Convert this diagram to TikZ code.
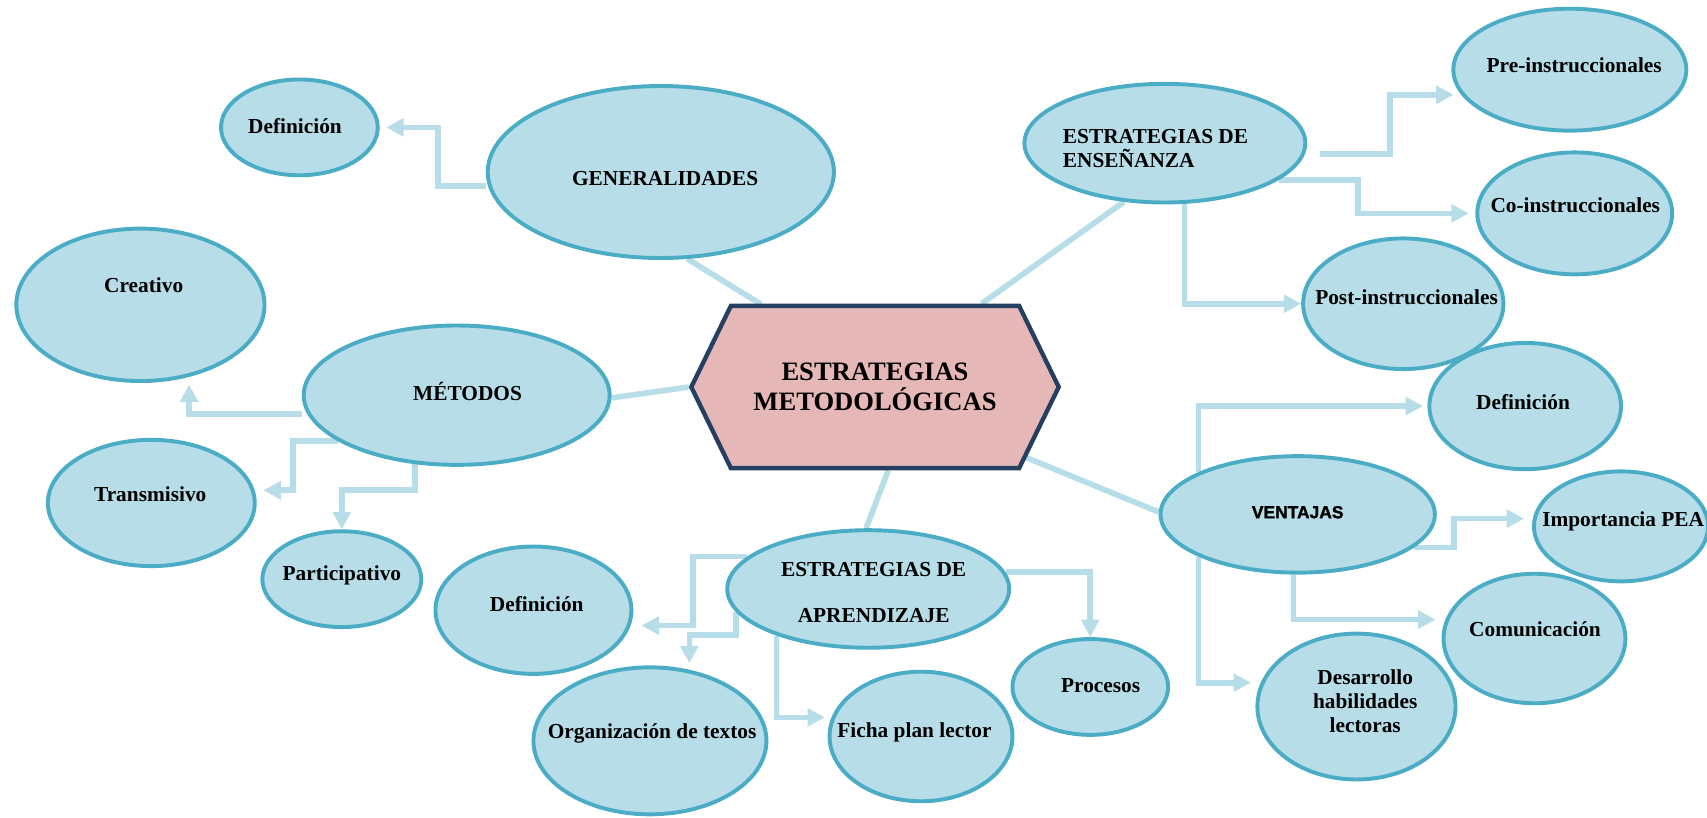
\documentclass[tikz,border=0pt]{standalone}
\usepackage{fontspec}
\setmainfont{Liberation Serif}
\newfontfamily\negrita[BoldFeatures={FakeBold=1.5}]{Liberation Sans}
\usetikzlibrary{shapes.geometric,shapes.symbols,arrows.meta,backgrounds}

\definecolor{relleno}{HTML}{B7DDE8}
\definecolor{borde}{HTML}{4BACC6}
\definecolor{linea}{HTML}{B6DDE8}
\definecolor{rosa}{HTML}{E5B8B7}
\definecolor{marino}{HTML}{243F60}

\tikzset{
    hoja/.style={ellipse, draw=borde, fill=relleno, line width=1.8pt, inner sep=0pt},
    rotulo/.style={font=\fontsize{9.8}{11}\selectfont\bfseries, inner sep=0pt,
                   anchor=base, align=center},
    enlace/.style={draw=linea, line width=2.6pt},
    flecha/.style={draw=linea, line width=2.6pt, shorten >=3pt,
                   -{Triangle[width=8pt,length=8pt]}},
}

\begin{document}
\begin{tikzpicture}[x=0.5pt,y=-0.5pt]
        \useasboundingbox (0,0) rectangle (1568,751);

        % centro
        \node[shape=signal, signal to=west and east, signal pointer angle=128,
              draw=marino, fill=rosa, line width=2pt, inner sep=0pt,
              minimum width=168.75pt, minimum height=74.5pt, align=center,
              font=\fontsize{12.2}{14}\selectfont\bfseries]
              (hex) at (803.75,355.5) {ESTRATEGIAS\\METODOLÓGICAS};

        \begin{scope}[every node/.style={hoja}]
            \node[minimum width=72pt, minimum height=44pt] (def1) at (275,117) {};
            \node[minimum width=159pt, minimum height=79pt] (gen) at (607,158) {};
            \node[minimum width=114pt, minimum height=70pt] (crea) at (129,280) {};
            \node[minimum width=140.5pt, minimum height=64pt] (met) at (419.5,363) {};
            \node[minimum width=95pt, minimum height=58pt] (trans) at (139,462) {};
            \node[minimum width=73pt, minimum height=44pt] (parti) at (314,532) {};
            \node[minimum width=129pt, minimum height=54.5pt] (ens) at (1070,131.5) {};
            \node[minimum width=107pt, minimum height=56pt] (pre) at (1442,64) {};
            \node[minimum width=89.5pt, minimum height=56pt] (co) at (1446.5,196) {};
            \node[minimum width=92pt, minimum height=60pt] (post) at (1289,279) {};
            \node[minimum width=88pt, minimum height=58pt] (def2) at (1401,373) {};
            \node[minimum width=126pt, minimum height=53.5pt] (ven) at (1192,472.5) {};
            \node[minimum width=80pt, minimum height=50.5pt] (imp) at (1489,483.5) {};
            \node[minimum width=91pt, minimum height=67pt] (des) at (1246,649) {};
            \node[minimum width=83.5pt, minimum height=59.5pt] (com) at (1409.5,586.5) {};
            \node[minimum width=129.5pt, minimum height=54pt] (apr) at (797.5,541) {};
            \node[minimum width=90pt, minimum height=58.5pt] (def3) at (490,560.5) {};
            \node[minimum width=107pt, minimum height=67.5pt] (org) at (597,680.5) {};
            \node[minimum width=84pt, minimum height=59.5pt] (ficha) at (846,676.5) {};
            \node[minimum width=71.5pt, minimum height=44pt] (proc) at (1001.5,631) {};
        \end{scope}

        \begin{scope}[every node/.style={rotulo}]
            \node (def1-t) at (271,123) {Definición};
            \node (gen-t) at (611,170) {GENERALIDADES};
            \node (crea-t) at (132,269) {Creativo};
            \node (met-t) at (429.5,368) {MÉTODOS};
            \node (trans-t) at (138,461) {Transmisivo};
            \node (parti-t) at (314,533.5) {Participativo};
            \node[anchor=base west, align=left] (ens-t) at (976,154) {ESTRATEGIAS DE\\ENSEÑANZA};
            \node (pre-t) at (1446,67) {Pre-instruccionales};
            \node (co-t) at (1447,195) {Co-instruccionales};
            \node (post-t) at (1292,280) {Post-instruccionales};
            \node (def2-t) at (1399,376) {Definición};
            \node[font=\fontsize{8}{9}\selectfont\negrita\bfseries] (ven-t) at (1192,476) {VENTAJAS};
            \node (imp-t) at (1491,484) {Importancia PEA};
            \node (com-t) at (1410,585) {Comunicación};
            \node (des-t) at (1254,673) {Desarrollo\\habilidades\\lectoras};
            \node (apr-t) at (802.5,572) {ESTRATEGIAS DE\\[10pt]APRENDIZAJE};
            \node (def3-t) at (493,562) {Definición};
            \node (org-t) at (599,678) {Organización de textos};
            \node (ficha-t) at (840,677) {Ficha plan lector};
            \node (proc-t) at (1011,636) {Procesos};
        \end{scope}

        \begin{pgfonlayer}{background}
            \path[enlace] (hex.144) -- (gen.-73);
            \path[enlace] (hex.38) -- (ens.-125);
            \path[enlace] (hex.west) -- (met.-1);
            \path[enlace] (hex.279) -- (apr.92);
            \path[enlace] (hex.335) -- (ven.179);

            \path[flecha] ([yshift=-6.5pt]gen.west) -- ++(-44,0) |- (def1);
            \path[flecha, shorten >=3.5pt] ([yshift=-8.5pt]met.west) -| (crea.-56);
            \path[flecha, shorten >=4pt] (met.201) -- ++(-41,0) |- (trans.7);
            \path[flecha, shorten >=0pt] (met.239) -- ++(0,23.5) -| (parti);

            \path[flecha, shorten <=6pt, shorten >=3.5pt] ([yshift=-5pt]ens.east) -- ++(76,0) |- (pre.193);
            \path[flecha] (ens.-18) -- ++(73,0) |- (co);
            \path[flecha, shorten >=0pt] (ens.-72) |- (post);

            \path[flecha, shorten >=2pt] (ven.157) |- (def2);
            \path[flecha, shorten >=4.5pt] (ven.203) |- (des.166);
            \path[flecha, shorten >=4pt] (ven.-16) -- ++(37,0) |- (imp.175);
            \path[flecha, shorten >=4.5pt] (ven.266) |- (com.168);

            \path[flecha, shorten >=5pt] (apr.165) -- ++(-50,0) |- (def3.-9);
            \path[flecha] (apr.190) -- ++(0,21) -| (org.61);
            \path[flecha] (apr.207) |- (ficha.168);
            \path[flecha, shorten >=0pt] (apr.7) -| (proc);
        \end{pgfonlayer}
\end{tikzpicture}
\end{document}
